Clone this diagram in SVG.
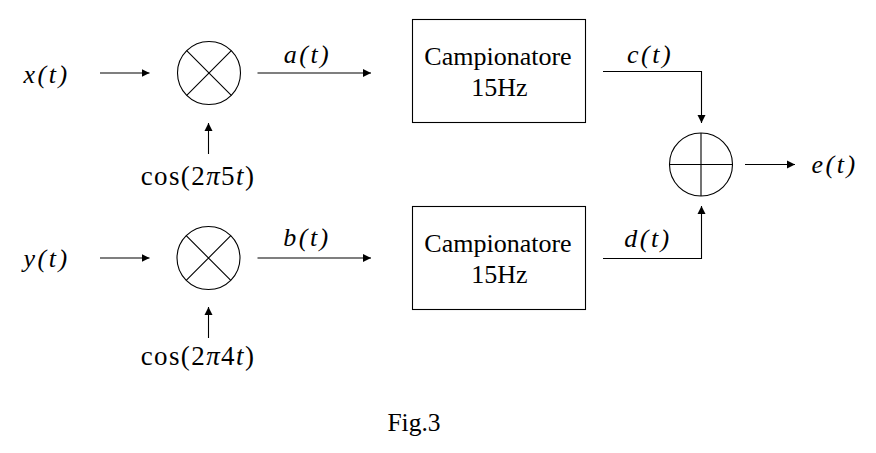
<svg xmlns="http://www.w3.org/2000/svg" width="876" height="453" viewBox="0 0 876 453">
<style>
.s{fill:none;stroke:#000;stroke-width:1.1}
.l{fill:none;stroke:#000;stroke-width:1.1;marker-end:url(#a)}
.m{font-family:"Liberation Serif","Times New Roman",serif;font-size:26px;font-style:italic;fill:#000;letter-spacing:2.5px;text-anchor:middle}
.c{font-size:27px;letter-spacing:1.4px}
.r{font-style:normal}
.t{font-family:"Liberation Serif","Times New Roman",serif;font-size:26px;fill:#000;text-anchor:middle}
</style>
<defs><marker id="a" markerUnits="userSpaceOnUse" markerWidth="9" markerHeight="9" refX="8" refY="4.5" orient="auto"><path d="M0 0.5L8 4.5L0 8.500Z" fill="#000"/></marker></defs>
<rect width="876" height="453" fill="#fff"/>
<g id="connectors">
<path class="l" d="M100 73H149.500"/>
<path class="l" d="M257.500 73H371"/>
<path class="l" d="M208.500 154V123"/>
<path class="l" d="M100 258H149.500"/>
<path class="l" d="M257.500 258H371"/>
<path class="l" d="M208.500 338V307"/>
<path class="l" d="M603 71.500H701.500V123"/>
<path class="l" d="M603 258.500H701.500V206"/>
<path class="l" d="M745 164.500H795"/>
</g>
<g id="x"><text class="m" x="46.500" y="83">x(t)</text></g>
<g id="y"><text class="m" x="46.500" y="267">y(t)</text></g>
<g id="mul1"><circle class="s" cx="209" cy="73" r="31.500"/><path class="s" d="M186.700 50.700L231.300 95.300M231.300 50.700L186.700 95.300"/></g>
<g id="mul2"><circle class="s" cx="208.500" cy="258" r="31.500"/><path class="s" d="M186.200 235.700L230.800 280.300M230.800 235.700L186.200 280.300"/></g>
<g id="cos1"><text class="m c" x="198" y="185"><tspan class="r">cos(2</tspan>π<tspan class="r">5</tspan>t<tspan class="r">)</tspan></text></g>
<g id="cos2"><text class="m c" x="198" y="365"><tspan class="r">cos(2</tspan>π<tspan class="r">4</tspan>t<tspan class="r">)</tspan></text></g>
<g id="a-label"><text class="m" x="307.500" y="63">a(t)</text></g>
<g id="b-label"><text class="m" x="307" y="246">b(t)</text></g>
<g id="c-label"><text class="m" x="650" y="63">c(t)</text></g>
<g id="d-label"><text class="m" x="648" y="247">d(t)</text></g>
<g id="e-label"><text class="m" x="834.500" y="173">e(t)</text></g>
<g id="samp1"><rect class="s" x="412.500" y="19.500" width="173" height="103"/><text class="t" x="498" y="65">Campionatore</text><text class="t" x="499.500" y="96">15Hz</text></g>
<g id="samp2"><rect class="s" x="412.500" y="206.500" width="173" height="103"/><text class="t" x="498" y="252">Campionatore</text><text class="t" x="499.500" y="283">15Hz</text></g>
<g id="sum"><circle class="s" cx="701" cy="164.500" r="31.500"/><path class="s" d="M669.500 164.500H732.500M701 133V196"/></g>
<g id="caption"><text class="t" x="414" y="431" style="font-size:25.500px">Fig.3</text></g>
</svg>
